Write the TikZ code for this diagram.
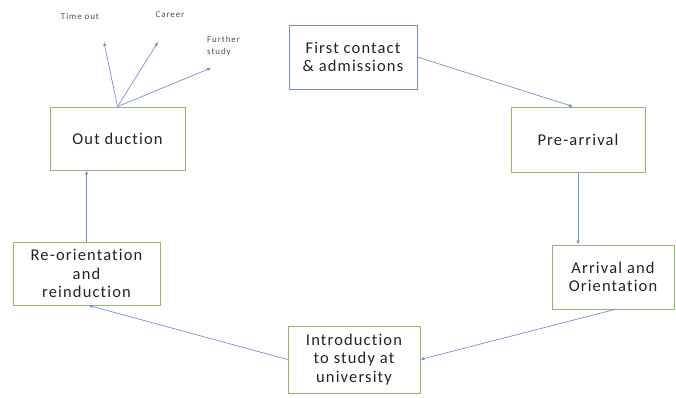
\documentclass[tikz,border=0pt]{standalone}
\usepackage{fontspec}
\setmainfont{Carlito}
\newfontfamily\widefont[LetterSpace=7,Ligatures=NoCommon]{Carlito}
\newfontfamily\smallwide[LetterSpace=10,Ligatures=NoCommon]{Carlito}
\usetikzlibrary{arrows.meta}
\definecolor{boxgreen}{RGB}{150,180,120}
\definecolor{boxblue}{RGB}{120,140,180}
\definecolor{linkblue}{RGB}{120,145,205}
\definecolor{txt}{RGB}{35,35,35}
\definecolor{smalltxt}{RGB}{80,80,80}
\begin{document}
\begin{tikzpicture}[x=1pt,y=1pt,
  stage/.style={draw=boxgreen,line width=0.8pt,fill=white,align=center,
    font=\widefont\fontsize{16.5}{18.5}\selectfont,text=txt,inner sep=0pt},
  link/.style={draw=linkblue,line width=0.7pt,-{Latex[length=4pt,width=3.5pt]}},
  small/.style={font=\smallwide\fontsize{9}{11.5}\selectfont,text=smalltxt,inner sep=0pt}]
\useasboundingbox (0,0) rectangle (676,397);
% cycle stages
\node[stage,draw=boxblue,minimum width=128,minimum height=64] (first) at (353,340) {First contact\\\& admissions};
\node[stage,minimum width=134,minimum height=65] (pre) at (578,257.5) {Pre-arrival};
\node[stage,minimum width=122,minimum height=64] (arr) at (613,120) {Arrival and\\Orientation};
\node[stage,minimum width=132,minimum height=67] (intro) at (354,37.5) {Introduction\\to study at\\university};
\node[stage,minimum width=147,minimum height=63] (reo) at (86.5,123.5) {Re-orientation\\and\\reinduction};
\node[stage,minimum width=135,minimum height=63] (out) at (117.5,258.5) {Out duction};
% destinations after leaving
\coordinate (tout) at (104,355);
\coordinate (car) at (158,355);
\coordinate (fur) at (211,329);
\node[small] (ltout) at (80,381) {Time out};
\node[small] (lcar) at (170,382) {Career};
\node[small,align=left,anchor=west] (lfur) at (207,351) {Further\\study};
% links
\draw[link] (first.east) -- ([xshift=-5pt]pre.north);
\draw[link] (pre.south) -- (pre.south |- arr.north);
\draw[link] ([xshift=2pt]arr.south) -- (intro.east);
\draw[link] (intro.west) -- ([xshift=2pt]reo.south);
\draw[link] (reo.north) -- (reo.north |- out.south);
\draw[link] (out.north) -- (tout);
\draw[link] (out.north) -- (car);
\draw[link] (out.north) -- (fur);
\end{tikzpicture}
\end{document}
